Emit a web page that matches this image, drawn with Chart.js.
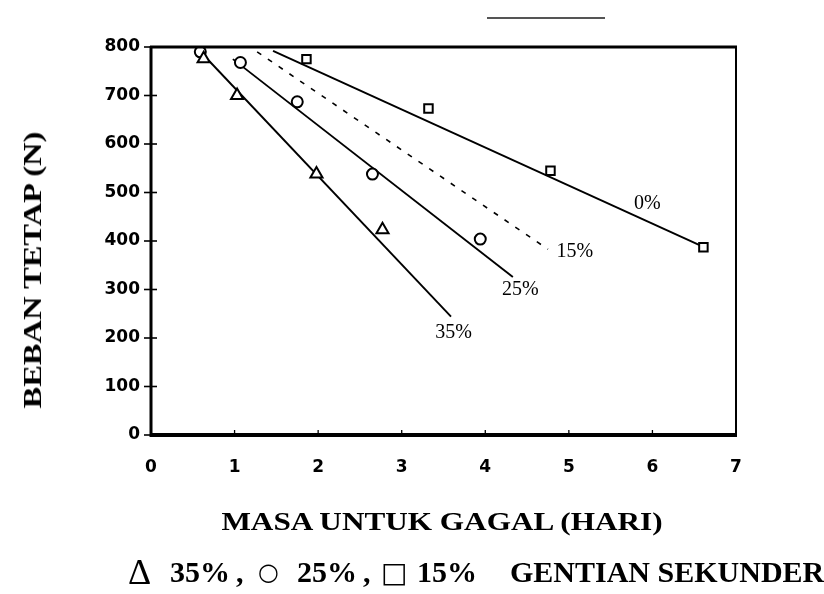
<!DOCTYPE html>
<html>
<head>
<meta charset="utf-8">
<script src="https://cdn.jsdelivr.net/npm/chart.js@4.4.1/dist/chart.umd.min.js"></script>
<style>
    body { margin: 0; background: #fff; }
    #wrap { position: relative; width: 824px; height: 594px; overflow: hidden; }
    #chart { position: absolute; left: 0; top: 0; }
    .title { position: absolute; font-family: "Liberation Serif", "Times New Roman", serif; font-weight: bold; color: #000; white-space: nowrap; }
    #xTitle { left: 442px; top: 522px; font-size: 26px; transform: translate(-50%, -50%) scaleX(1.2); }
    #yTitle { left: 33px; top: 270px; font-size: 26px; transform: translate(-50%, -50%) rotate(-90deg) scaleX(1.25); }
    .leg { top: 572px; font-size: 30px; transform: translateY(-50%); }
    .leg.sym { font-weight: normal; font-family: "DejaVu Sans", sans-serif; }
    #scan { position: absolute; left: 487px; top: 17px; width: 118px; height: 2px; background: #555; }
</style>
</head>
<body>
<div id="wrap">
    <canvas id="chart" width="824" height="594"></canvas>
    <div id="scan"></div>
    <div class="title" id="yTitle">BEBAN TETAP (N)</div>
    <div class="title" id="xTitle">MASA UNTUK GAGAL (HARI)</div>
    <div class="title leg sym" style="left:128px; font-size:36px; font-family:'Liberation Serif', serif;">&#916;</div>
    <div class="title leg" style="left:170px;">35%</div>
    <div class="title leg" style="left:236px;">,</div>
    <div class="title leg sym" style="left:258px; font-size:24px;">&#9675;</div>
    <div class="title leg" style="left:297px;">25%</div>
    <div class="title leg" style="left:363px;">,</div>
    <div class="title leg sym" style="left:381px; font-size:28px;">&#9633;</div>
    <div class="title leg" style="left:417px;">15%</div>
    <div class="title leg" style="left:510px;">GENTIAN SEKUNDER</div>
</div>
<script>
// Measured points (time to failure in days, constant load in N)
const triX = [0.63, 1.03, 1.98, 2.77];
const triY = [776, 700, 538, 423];
const circX = [0.59, 1.07, 1.75, 2.65, 3.94];
const circY = [790, 768, 687, 538, 404];
const sqX = [1.86, 3.32, 4.78, 6.61];
const sqY = [775, 673, 545, 387];

// Fitted lines
const line35X = [0.62, 3.59];
const line35Y = [785, 244];
const line25X = [0.98, 4.33];
const line25Y = [775, 326];
const line15X = [1.27, 4.75];
const line15Y = [790, 383];
const line0X = [1.46, 6.61];
const line0Y = [792, 388];

// Line labels
const lineLabels = ['0%', '15%', '25%', '35%'];
const labelX = [5.94, 5.07, 4.42, 3.62];
const labelY = [476, 378, 299, 210];

// Axis ticks
const xTicks = [0, 1, 2, 3, 4, 5, 6, 7];
const yTicks = [0, 100, 200, 300, 400, 500, 600, 700, 800];

function toPoints(xs, ys) {
    return xs.map((v, i) => ({ x: v, y: ys[i] }));
}

function markerSet(xs, ys, style, radius) {
    return {
        data: toPoints(xs, ys),
        pointStyle: style,
        pointRadius: radius,
        pointBackgroundColor: '#fff',
        pointBorderColor: '#000',
        pointBorderWidth: 2,
        showLine: false
    };
}

function lineSet(xs, ys, dash) {
    return {
        data: toPoints(xs, ys),
        showLine: true,
        borderColor: '#000',
        borderWidth: dash ? 1.6 : 1.9,
        borderDash: dash || [],
        pointRadius: 0
    };
}

// Frame, crossing tick marks and line labels
const framePlugin = {
    id: 'frame',
    afterDatasetsDraw(chart) {
        const { ctx, chartArea: a, scales: { x, y } } = chart;
        const seg = (x1, y1, x2, y2, w) => {
            ctx.lineWidth = w;
            ctx.beginPath();
            ctx.moveTo(x1, y1);
            ctx.lineTo(x2, y2);
            ctx.stroke();
        };
        ctx.save();
        ctx.strokeStyle = '#000';
        seg(a.left, a.top - 1, a.left, a.bottom + 2, 3);
        seg(a.left - 1, a.bottom, a.right + 1, a.bottom, 4);
        seg(a.left - 1, a.top, a.right + 1, a.top, 3);
        seg(a.right, a.top, a.right, a.bottom, 2);

        yTicks.forEach(v => {
            const py = y.getPixelForValue(v);
            seg(a.left - 7, py, a.left + 6, py, 1.6);
        });
        xTicks.forEach(v => {
            const px = x.getPixelForValue(v);
            seg(px, a.bottom, px, a.bottom - 5, 1.3);
        });

        ctx.fillStyle = '#000';
        ctx.font = '20px "Liberation Serif", "Times New Roman", serif';
        ctx.textAlign = 'center';
        ctx.textBaseline = 'middle';
        lineLabels.forEach((t, i) => {
            ctx.fillText(t, x.getPixelForValue(labelX[i]), y.getPixelForValue(labelY[i]));
        });
        ctx.restore();
    }
};

const tickFont = { family: '"DejaVu Sans", Arial, sans-serif', size: 17, weight: 'bold' };

new Chart(document.getElementById('chart'), {
    type: 'scatter',
    data: {
        datasets: [
            markerSet(triX, triY, 'triangle', 7),
            markerSet(circX, circY, 'circle', 5.5),
            markerSet(sqX, sqY, 'rect', 6),
            lineSet(line35X, line35Y),
            lineSet(line25X, line25Y),
            lineSet(line15X, line15Y, [5, 8]),
            lineSet(line0X, line0Y)
        ]
    },
    options: {
        responsive: false,
        animation: false,
        devicePixelRatio: 1,
        layout: { padding: { left: 0, right: 88, top: 47, bottom: 0 } },
        plugins: {
            legend: { display: false },
            tooltip: { enabled: false }
        },
        scales: {
            x: {
                type: 'linear',
                min: 0,
                max: 7,
                afterFit: s => { s.height = 159; },
                afterBuildTicks: s => { s.ticks = xTicks.map(v => ({ value: v })); },
                ticks: { color: '#000', font: tickFont, padding: 22, maxRotation: 0 },
                grid: { display: false, drawTicks: false },
                border: { display: false }
            },
            y: {
                type: 'linear',
                min: 0,
                max: 800,
                afterFit: s => { s.width = 151; },
                afterBuildTicks: s => { s.ticks = yTicks.map(v => ({ value: v })); },
                ticks: { color: '#000', font: tickFont, padding: 11 },
                grid: { display: false, drawTicks: false },
                border: { display: false }
            }
        }
    },
    plugins: [framePlugin]
});
</script>
</body>
</html>
